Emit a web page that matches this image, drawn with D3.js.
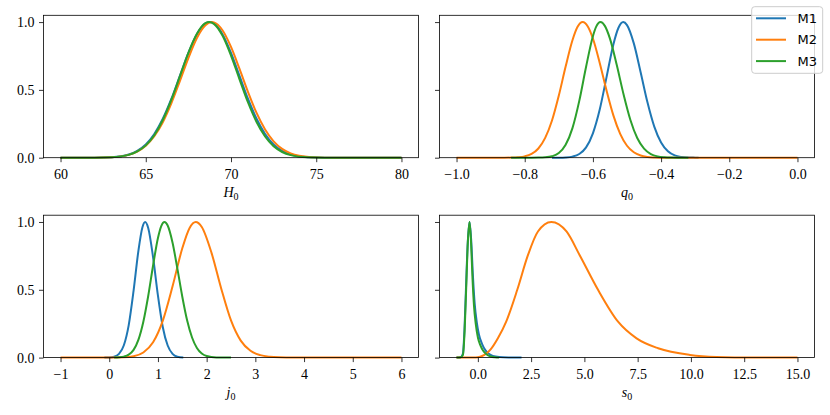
<!DOCTYPE html>
<html><head><meta charset="utf-8">
<script src="https://cdn.jsdelivr.net/npm/d3@7"></script>
<style>body{margin:0;background:#fff}</style></head>
<body>
<svg id="c" width="830" height="415"></svg>
<script>
const models = ["M1", "M2", "M3"];
const colors = ["#1f77b4", "#ff7f0e", "#2ca02c"];
const yTicks = [0, 0.5, 1.0];
const yTickLabels = ["0.0", "0.5", "1.0"];
const H0_ticks = [60, 65, 70, 75, 80];
const H0_tickLabels = ["60", "65", "70", "75", "80"];
const q0_ticks = [-1.0, -0.8, -0.6, -0.4, -0.2, 0.0];
const q0_tickLabels = ["\u22121.0", "\u22120.8", "\u22120.6", "\u22120.4", "\u22120.2", "0.0"];
const j0_ticks = [-1, 0, 1, 2, 3, 4, 5, 6];
const j0_tickLabels = ["\u22121", "0", "1", "2", "3", "4", "5", "6"];
const s0_ticks = [0, 2.5, 5, 7.5, 10, 12.5, 15];
const s0_tickLabels = ["0.0", "2.5", "5.0", "7.5", "10.0", "12.5", "15.0"];

const H0_M1 = [[60,0],[62,0.0005],[63,0.004],[64,0.024],[64.5,0.051],[65,0.098],[65.5,0.175],[66,0.287],[66.5,0.433],[67,0.603],[67.5,0.773],[68,0.911],[68.5,0.990],[68.75,1.0],[69,0.990],[69.5,0.911],[70,0.773],[70.5,0.603],[71,0.433],[71.5,0.287],[72,0.175],[72.5,0.098],[73,0.051],[73.5,0.024],[74.5,0.004],[75.5,0.0005],[80,0]];
const H0_M2 = [[60,0],[62,0.0005],[63,0.0038],[64,0.021],[64.5,0.045],[65,0.088],[65.5,0.158],[66,0.262],[66.5,0.401],[67,0.565],[67.5,0.735],[68,0.883],[68.5,0.977],[68.88,1.0],[69,0.998],[69.5,0.940],[70,0.817],[70.5,0.655],[71,0.484],[71.5,0.330],[72,0.208],[72.5,0.121],[73,0.065],[73.5,0.032],[74,0.0145],[75,0.0024],[76,0.0003],[80,0]];
const H0_M3 = [[60,0],[62,0.0004],[63,0.0035],[64,0.021],[64.5,0.046],[65,0.091],[65.5,0.166],[66,0.278],[66.5,0.426],[67,0.599],[67.5,0.773],[68,0.914],[68.5,0.992],[68.72,1.0],[69,0.987],[69.5,0.900],[70,0.753],[70.5,0.578],[71,0.407],[71.5,0.263],[72,0.156],[72.5,0.084],[73,0.042],[73.5,0.019],[74.5,0.003],[75.5,0.0004],[80,0]];

const q0_M1 = [[-0.72,0],[-0.70,0.0004],[-0.68,0.002],[-0.66,0.008],[-0.64,0.027],[-0.62,0.076],[-0.60,0.180],[-0.58,0.355],[-0.56,0.594],[-0.54,0.835],[-0.525,0.958],[-0.511,1.0],[-0.50,0.978],[-0.48,0.843],[-0.46,0.630],[-0.44,0.408],[-0.42,0.229],[-0.40,0.112],[-0.38,0.047],[-0.36,0.017],[-0.34,0.0054],[-0.32,0.0015],[-0.30,0.0004],[-0.29,0]];
const q0_M2 = [[-1.0,0],[-0.90,0],[-0.86,0.0002],[-0.84,0.0009],[-0.82,0.0032],[-0.80,0.0099],[-0.78,0.0276],[-0.76,0.068],[-0.74,0.146],[-0.72,0.274],[-0.70,0.458],[-0.68,0.672],[-0.66,0.866],[-0.645,0.965],[-0.63,1.0],[-0.615,0.968],[-0.60,0.879],[-0.58,0.699],[-0.56,0.495],[-0.54,0.312],[-0.52,0.176],[-0.50,0.088],[-0.48,0.040],[-0.46,0.016],[-0.44,0.0056],[-0.42,0.0018],[-0.40,0.0005],[-0.35,0],[0.0,0]];
const q0_M3 = [[-0.84,0],[-0.80,0],[-0.78,0.0001],[-0.76,0.0006],[-0.74,0.0026],[-0.72,0.0104],[-0.70,0.034],[-0.68,0.095],[-0.66,0.218],[-0.64,0.419],[-0.62,0.671],[-0.60,0.896],[-0.59,0.968],[-0.578,1.0],[-0.565,0.972],[-0.55,0.878],[-0.53,0.683],[-0.51,0.466],[-0.49,0.278],[-0.47,0.145],[-0.45,0.067],[-0.43,0.027],[-0.41,0.0095],[-0.39,0.003],[-0.37,0.0008],[-0.35,0.0002],[-0.32,0]];

const j0_M1 = [[-0.1,0],[0.0,0.0011],[0.1,0.0062],[0.2,0.027],[0.3,0.091],[0.4,0.240],[0.5,0.494],[0.6,0.791],[0.68,0.960],[0.737,1.0],[0.8,0.956],[0.9,0.740],[1.0,0.457],[1.1,0.224],[1.2,0.089],[1.3,0.0276],[1.4,0.0068],[1.52,0.001]];
const j0_M2 = [[-1.0,0],[0.0,0.0001],[0.3,0.002],[0.5,0.01],[0.7,0.038],[0.9,0.113],[1.1,0.273],[1.3,0.526],[1.5,0.806],[1.65,0.956],[1.776,1.0],[1.9,0.963],[2.1,0.772],[2.3,0.508],[2.5,0.274],[2.7,0.125],[2.9,0.05],[3.1,0.018],[3.3,0.006],[3.5,0.002],[3.8,0.0004],[4.2,0],[6.0,0]];
const j0_M3 = [[0.1,0],[0.2,0.002],[0.3,0.0072],[0.4,0.0217],[0.5,0.057],[0.6,0.132],[0.7,0.264],[0.8,0.454],[0.9,0.679],[1.0,0.882],[1.07,0.972],[1.133,1.0],[1.2,0.974],[1.3,0.847],[1.4,0.654],[1.5,0.449],[1.6,0.273],[1.7,0.148],[1.8,0.071],[1.9,0.030],[2.0,0.0114],[2.2,0.0011],[2.5,0]];

const s0_M1 = [[-1.0,0],[-0.8,0.003],[-0.7,0.03],[-0.63,0.2],[-0.56,0.5],[-0.47,0.86],[-0.39,1.0],[-0.31,0.86],[-0.23,0.6],[-0.15,0.4],[-0.05,0.26],[0.05,0.17],[0.2,0.1],[0.35,0.055],[0.5,0.03],[0.7,0.012],[1.0,0.004],[1.5,0.001],[2.05,0]];
const s0_M2 = [[-1.0,0],[-0.2,0],[0.0,0.003],[0.2,0.012],[0.4,0.03],[0.6,0.06],[0.94,0.142],[1.33,0.265],[1.85,0.5],[2.35,0.755],[2.82,0.93],[3.45,1.0],[4.16,0.93],[4.78,0.755],[5.64,0.5],[6.58,0.265],[7.45,0.142],[8.46,0.069],[9.95,0.02],[11.2,0.005],[13.0,0.0005],[15.0,0]];
const s0_M3 = [[-1.0,0],[-0.8,0.002],[-0.7,0.02],[-0.62,0.2],[-0.55,0.5],[-0.47,0.85],[-0.39,1.0],[-0.32,0.85],[-0.25,0.58],[-0.18,0.38],[-0.1,0.25],[0.0,0.15],[0.12,0.09],[0.25,0.05],[0.4,0.025],[0.6,0.008],[0.8,0.002],[1.0,0]];

const panels = [
  {sym: "H", domain: [59, 81], ticks: H0_ticks, labels: H0_tickLabels, series: [H0_M1, H0_M2, H0_M3], col: 0, row: 0},
  {sym: "q", domain: [-1.05, 0.05], ticks: q0_ticks, labels: q0_tickLabels, series: [q0_M1, q0_M2, q0_M3], col: 1, row: 0},
  {sym: "j", domain: [-1.35, 6.35], ticks: j0_ticks, labels: j0_tickLabels, series: [j0_M1, j0_M2, j0_M3], col: 0, row: 1},
  {sym: "s", domain: [-1.8, 15.8], ticks: s0_ticks, labels: s0_tickLabels, series: [s0_M1, s0_M2, s0_M3], col: 1, row: 1}
];

const colX = [43.5, 439.5], rowY = [15.3, 215.2];
const PW = 375, PH = 142.4;
const serif = "'Liberation Serif', 'Times New Roman', serif";
const svg = d3.select("#c");

panels.forEach(p => {
  const g = svg.append("g").attr("transform", `translate(${colX[p.col]},${rowY[p.row]})`);
  const x = d3.scaleLinear().domain(p.domain).range([0, PW]);
  const y = d3.scaleLinear().domain([0, 1.05]).range([PH, 0]);

  const line = d3.line().x(d => x(d[0])).y(d => y(d[1])).curve(d3.curveMonotoneX);
  p.series.forEach((s, i) => {
    g.append("path").datum(s).attr("d", line)
      .attr("fill", "none").attr("stroke", colors[i]).attr("stroke-width", 2)
      .attr("stroke-linejoin", "round").attr("stroke-linecap", "butt");
  });

  const xa = d3.axisBottom(x).tickValues(p.ticks)
    .tickFormat((d, i) => p.labels[i]).tickSize(4.5).tickSizeOuter(0).tickPadding(7.3);
  const gx = g.append("g").attr("transform", `translate(0,${PH})`).call(xa);
  gx.select(".domain").remove();
  gx.selectAll("line").attr("stroke", "#000").attr("stroke-width", 0.8);
  gx.selectAll("text").attr("font-family", serif).attr("font-size", 14).attr("fill", "#000");

  const ya = d3.axisLeft(y).tickValues(yTicks)
    .tickFormat((d, i) => p.col === 0 ? yTickLabels[i] : "").tickSize(4.5).tickSizeOuter(0).tickPadding(4.5);
  const gy = g.append("g").call(ya);
  gy.select(".domain").remove();
  gy.selectAll("line").attr("stroke", "#000").attr("stroke-width", 0.8);
  gy.selectAll("text").attr("font-family", serif).attr("font-size", 14).attr("fill", "#000");

  g.append("rect").attr("x", 0).attr("y", 0).attr("width", PW).attr("height", PH)
    .attr("fill", "none").attr("stroke", "#000").attr("stroke-width", 0.8);

  const t = g.append("text").attr("x", PW / 2).attr("y", PH + 39.5)
    .attr("text-anchor", "middle").attr("font-family", serif).attr("font-size", 14).attr("fill", "#000");
  t.append("tspan").attr("font-style", "italic").text(p.sym);
  t.append("tspan").attr("font-size", 10).attr("dy", 2.5).text("0");
});

// legend
const lg = svg.append("g");
lg.append("rect").attr("x", 751.7).attr("y", 6.7).attr("width", 71).attr("height", 66.6)
  .attr("rx", 3).attr("fill", "#fff").attr("fill-opacity", 0.8)
  .attr("stroke", "#cccccc").attr("stroke-width", 1);
models.forEach((m, i) => {
  const yy = 18.3 + i * 21.4;
  lg.append("line").attr("x1", 756).attr("x2", 786).attr("y1", yy).attr("y2", yy)
    .attr("stroke", colors[i]).attr("stroke-width", 2);
  lg.append("text").attr("x", 797.5).attr("y", yy).attr("dy", "0.36em")
    .attr("font-family", "'DejaVu Sans', sans-serif").attr("font-size", 13).attr("fill", "#000").text(m);
});
</script>
</body></html>
